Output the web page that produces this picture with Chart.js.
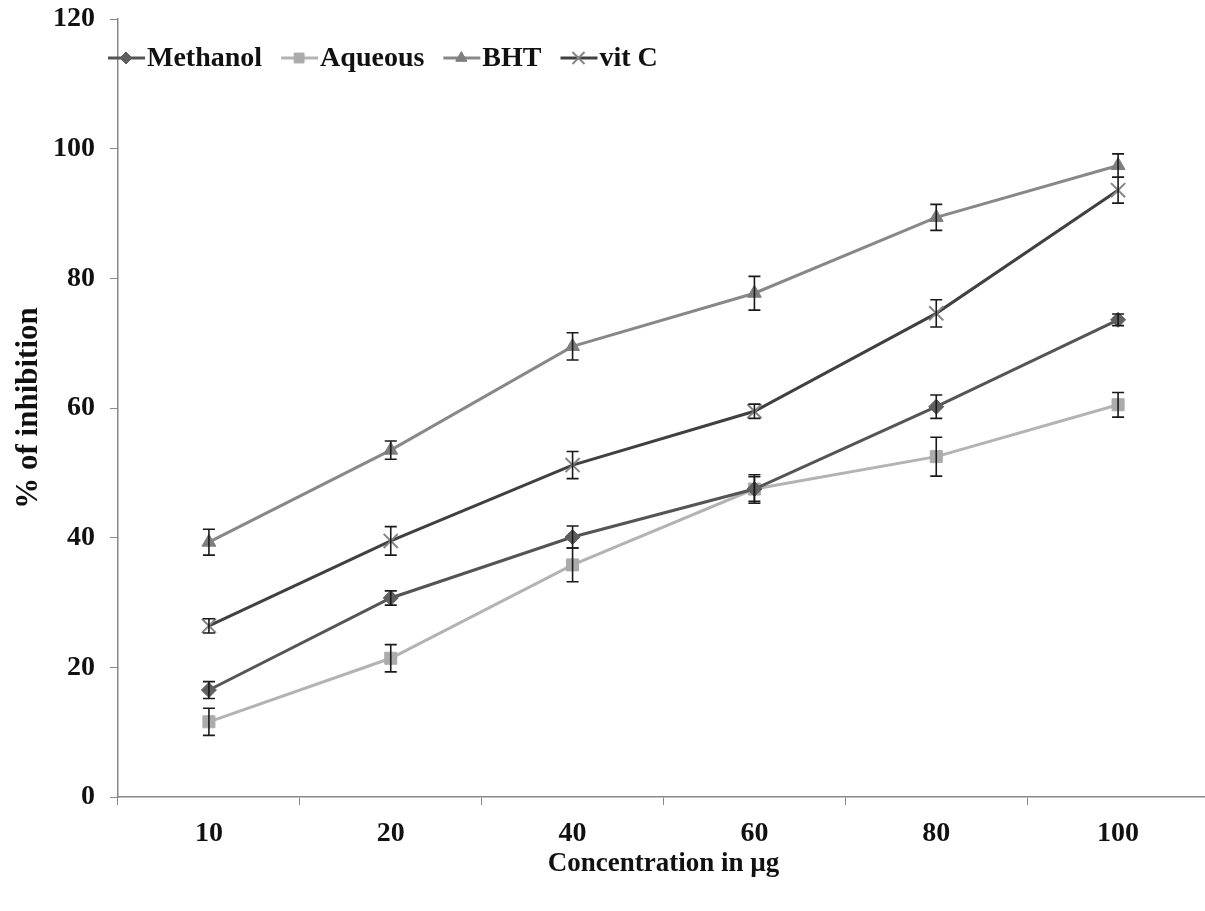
<!DOCTYPE html>
<html>
<head>
<meta charset="utf-8">
<script src="https://cdn.jsdelivr.net/npm/chart.js@4/dist/chart.umd.min.js"></script>
<style>
  html, body { margin: 0; padding: 0; background: #fff; overflow: hidden; }
  #wrap { width: 1221px; height: 911px; }
</style>
</head>
<body>
<div id="wrap"><canvas id="myChart"></canvas></div>
<script>
const concentrations = ["10", "20", "40", "60", "80", "100"];

const methanol = [16.5, 30.7, 40.1, 47.5, 60.2, 73.6];
const methanolErr = [1.3, 1.1, 1.7, 2.2, 1.8, 0.9];

const aqueous = [11.6, 21.4, 35.8, 47.5, 52.5, 60.5];
const aqueousErr = [2.1, 2.1, 2.6, 1.9, 3.0, 1.9];

const bht = [39.3, 53.5, 69.5, 77.7, 89.4, 97.4];
const bhtErr = [2.0, 1.4, 2.1, 2.6, 2.0, 1.8];

const vitC = [26.4, 39.5, 51.2, 59.5, 74.6, 93.6];
const vitCErr = [1.1, 2.2, 2.1, 1.1, 2.1, 2.0];

const yTicks = [0, 20, 40, 60, 80, 100, 120];

const serif = "'Liberation Serif', 'Times New Roman', serif";

function series(label, data, errors, line, marker, style, radius) {
  return {
    label: label,
    data: data,
    errors: errors,
    borderColor: line,
    borderWidth: 3,
    backgroundColor: marker,
    pointBackgroundColor: marker,
    pointBorderColor: marker,
    pointBorderWidth: style === "crossRot" ? 2 : 1,
    pointStyle: style,
    pointRadius: radius,
    tension: 0,
    fill: false
  };
}

// error bars with small caps, drawn over the markers
const errorBars = {
  id: "errorBars",
  afterDatasetsDraw(chart) {
    const ctx = chart.ctx;
    const y = chart.scales.y;
    ctx.save();
    ctx.strokeStyle = "#1a1a1a";
    ctx.lineWidth = 1.6;
    chart.data.datasets.forEach((ds, i) => {
      const meta = chart.getDatasetMeta(i);
      meta.data.forEach((pt, j) => {
        const e = ds.errors[j];
        const top = y.getPixelForValue(ds.data[j] + e);
        const bot = y.getPixelForValue(ds.data[j] - e);
        ctx.beginPath();
        ctx.moveTo(pt.x, top);
        ctx.lineTo(pt.x, bot);
        ctx.moveTo(pt.x - 6, top);
        ctx.lineTo(pt.x + 6, top);
        ctx.moveTo(pt.x - 6, bot);
        ctx.lineTo(pt.x + 6, bot);
        ctx.stroke();
      });
    });
    ctx.restore();
  }
};

// Excel-style legend: short line with the marker in the middle
const lineLegend = {
  id: "lineLegend",
  afterDraw(chart) {
    const ctx = chart.ctx;
    const area = chart.chartArea;
    let x = area.left - 10;
    const cy = area.top + 39;
    ctx.save();
    ctx.font = "bold 28px " + serif;
    ctx.textBaseline = "middle";
    chart.data.datasets.forEach(ds => {
      ctx.strokeStyle = ds.borderColor;
      ctx.lineWidth = 3;
      ctx.beginPath();
      ctx.moveTo(x, cy);
      ctx.lineTo(x + 37, cy);
      ctx.stroke();
      ctx.fillStyle = ds.pointBackgroundColor;
      ctx.strokeStyle = ds.pointBorderColor;
      ctx.lineWidth = ds.pointBorderWidth;
      Chart.helpers.drawPoint(ctx, {
        pointStyle: ds.pointStyle,
        radius: ds.pointRadius - 1.5,
        rotation: 0,
        borderWidth: ds.pointBorderWidth
      }, x + 18, cy);
      ctx.fillStyle = "#111";
      ctx.fillText(ds.label, x + 39, cy + 1);
      x += 39 + ctx.measureText(ds.label).width + 19;
    });
    ctx.restore();
  }
};

new Chart("myChart", {
  type: "line",
  data: {
    labels: concentrations,
    datasets: [
      series("Methanol", methanol, methanolErr, "#555555", "#5f5f5f", "rectRot", 7.5),
      series("Aqueous", aqueous, aqueousErr, "#b3b3b3", "#ababab", "rect", 8.5),
      series("BHT", bht, bhtErr, "#888888", "#7e7e7e", "triangle", 8),
      series("vit C", vitC, vitCErr, "#404040", "#858585", "crossRot", 10)
    ]
  },
  options: {
    responsive: true,
    maintainAspectRatio: false,
    animation: false,
    layout: { padding: { top: 19, right: 0, bottom: 0, left: 0 } },
    plugins: {
      legend: { display: false },
      tooltip: { enabled: false }
    },
    scales: {
      x: {
        offset: true,
        grid: {
          offset: true,
          drawOnChartArea: false,
          drawTicks: true,
          tickLength: 8,
          color: "#888"
        },
        border: { color: "#888", width: 1.5 },
        ticks: {
          color: "#111",
          padding: 12,
          font: { family: serif, size: 28, weight: "bold" }
        },
        title: {
          display: true,
          text: "Concentration in µg",
          color: "#111",
          padding: { top: 0, bottom: 31 },
          font: { family: serif, size: 27, weight: "bold" }
        },
        afterFit(scale) {
          scale.height = 114;
          scale.paddingLeft = 0;
          scale.paddingRight = 0;
        }
      },
      y: {
        min: 0,
        max: 120,
        afterBuildTicks(scale) {
          scale.ticks = yTicks.map(v => ({ value: v }));
        },
        grid: {
          drawOnChartArea: false,
          drawTicks: true,
          tickLength: 8,
          color: "#888"
        },
        border: { color: "#888", width: 1.5 },
        ticks: {
          color: "#111",
          padding: 15,
          font: { family: serif, size: 28, weight: "bold" }
        },
        title: {
          display: true,
          text: "% of inhibition",
          color: "#111",
          padding: { top: 10, bottom: 0 },
          font: { family: serif, size: 31, weight: "bold" }
        },
        afterFit(scale) {
          scale.width = 118;
          scale.paddingTop = 0;
          scale.paddingBottom = 0;
        }
      }
    }
  },
  plugins: [errorBars, lineLegend]
});
</script>
</body>
</html>
